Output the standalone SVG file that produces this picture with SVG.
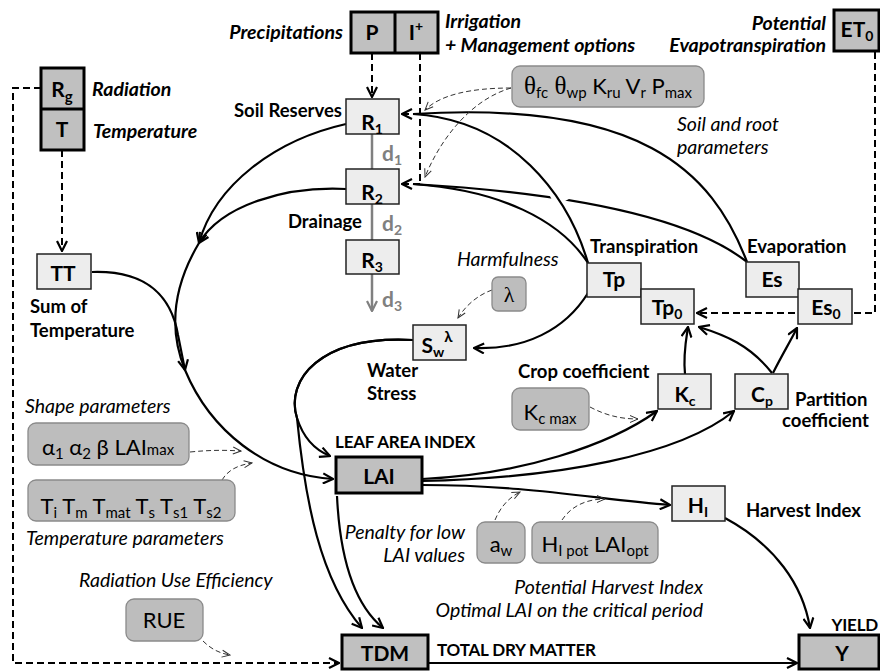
<svg xmlns="http://www.w3.org/2000/svg" width="880" height="671" viewBox="0 0 880 671">
<style>
.nb{fill:#c0c0c0;stroke:#000;stroke-width:3}
.lb{fill:#ededed;stroke:#222;stroke-width:1.5}
.pb{fill:#bdbdbd;stroke:#8a8a8a;stroke-width:1.3}
text{font-family:Lato,"Noto Sans","DejaVu Sans",sans-serif;fill:#000}
.t{font-weight:bold;font-size:21px;text-anchor:middle}
.lab{font-weight:bold;font-size:18.5px}
.cap{font-weight:bold;font-size:17px;letter-spacing:-0.2px}
.bi{font-weight:bold;font-style:italic;font-size:19.5px}
.it{font-style:italic;font-size:19.5px}
.par{font-size:22px;text-anchor:middle}
.gr{fill:#808080;font-weight:bold;font-size:21px}
.c{fill:none;stroke:#000;stroke-width:2.2}
.d{fill:none;stroke:#000;stroke-width:2;stroke-dasharray:7 4}
.pd{fill:none;stroke:#333;stroke-width:1;stroke-dasharray:5 3}
.gl{fill:none;stroke:#808080;stroke-width:2.5}
.sym{font-family:"Liberation Serif",serif}
</style>
<defs>
<marker id="a" viewBox="0 0 12 12" refX="11" refY="6" markerWidth="12" markerHeight="12" markerUnits="userSpaceOnUse" orient="auto"><path d="M1,1 L11,6 L1,11" fill="none" stroke="#000" stroke-width="2.2"/></marker>
<marker id="g" viewBox="0 0 12 12" refX="11" refY="6" markerWidth="12" markerHeight="12" markerUnits="userSpaceOnUse" orient="auto"><path d="M1,1 L11,6 L1,11" fill="none" stroke="#808080" stroke-width="2.2"/></marker>
<marker id="s" viewBox="0 0 10 10" refX="9" refY="5" markerWidth="10" markerHeight="10" markerUnits="userSpaceOnUse" orient="auto"><path d="M1,1.5 L9,5 L1,8.5" fill="none" stroke="#333" stroke-width="1"/></marker>
</defs>

<g id="connectors">
<path class="d" d="M41,88 L13,88 L13,663 L339,663" marker-end="url(#a)"/>
<path class="d" d="M62,150 L62,251" marker-end="url(#a)"/>
<path class="d" d="M372,53 L372,97" marker-end="url(#a)"/>
<path class="d" d="M420,53 L420,184"/>
<path class="d" d="M420,114 L402,114" marker-end="url(#a)"/>
<path class="d" d="M420,184 L402,184" marker-end="url(#a)"/>
<path class="d" d="M875,52 L875,313 L697,313" marker-end="url(#a)"/>
<path class="c" d="M747,262 C 712,170 640,100 413,114"/>
<path class="c" d="M747,262 C 700,225 600,195 413,184"/>
<line x1="551" y1="178" x2="563" y2="202" stroke="#fff" stroke-width="18"/>
<path class="c" d="M588,263 C 568,195 512,120 413,114"/>
<path class="c" d="M588,263 C 560,220 500,190 413,184"/>
<path class="c" d="M346,124 C 275,140 215,185 199,243" marker-end="url(#a)"/>
<path class="c" d="M346,189 C 285,186 222,205 199,243" marker-end="url(#a)"/>
<path class="c" d="M199,243 C 168,295 172,338 185,370 C 210,430 265,475 333,479" marker-end="url(#a)"/>
<path class="c" d="M92,272 C 150,270 172,300 178,335 C 181,350 183,360 185,370" marker-end="url(#a)"/>
<line class="gl" x1="372" y1="134" x2="372" y2="169"/>
<line class="gl" x1="372" y1="204" x2="372" y2="240"/>
<path class="gl" d="M372,274 L372,311" marker-end="url(#g)"/>
<path class="c" d="M588,293 C 565,330 525,350 474,348" marker-end="url(#a)"/>
<path class="c" d="M413,340 C 320,335 285,380 297,418 C 303,437 315,450 330,456" marker-end="url(#a)"/>
<path class="c" d="M413,340 C 320,335 285,380 297,418 C 305,500 320,580 362,628" marker-end="url(#a)"/>
<path class="c" d="M337,496 C 340,560 355,605 383,628" marker-end="url(#a)"/>
<path class="c" d="M422,479 C 520,475 610,445 657,411" marker-end="url(#a)"/>
<path class="c" d="M422,481 C 560,478 680,455 734,411" marker-end="url(#a)"/>
<path class="c" d="M422,485 C 530,485 600,500 670,505" marker-end="url(#a)"/>
<path class="c" d="M725,518 C 775,545 803,585 810,628" marker-end="url(#a)"/>
<path class="c" d="M428,663 L797,663" marker-end="url(#a)"/>
<path class="c" d="M685,374 C 683,355 686,340 688,327" marker-end="url(#a)"/>
<path class="c" d="M772,373 C 750,345 725,335 699,327" marker-end="url(#a)"/>
<path class="c" d="M773,373 C 782,355 790,342 797,328" marker-end="url(#a)"/>
<path class="pd" d="M511,88 C 470,88 440,95 425,110" marker-end="url(#s)"/>
<path class="pd" d="M511,88 C 470,100 440,140 425,177" marker-end="url(#s)"/>
<path class="pd" d="M492,290 C 478,295 466,305 458,318" marker-end="url(#s)"/>
<path class="pd" d="M590,407 C 605,415 620,419 638,419" marker-end="url(#s)"/>
<path class="pd" d="M190,452 C 210,450 225,450 241,451" marker-end="url(#s)"/>
<path class="pd" d="M222,480 C 228,470 238,465 252,463" marker-end="url(#s)"/>
<path class="pd" d="M203,641 C 210,648 218,653 230,655" marker-end="url(#s)"/>
<path class="pd" d="M495,520 C 500,508 508,498 520,492" marker-end="url(#s)"/>
<path class="pd" d="M562,520 C 572,505 588,499 605,499" marker-end="url(#s)"/>
</g>

<g id="RgT">
<rect class="nb" x="41" y="68" width="43" height="82"/>
<line x1="41" y1="109" x2="84" y2="109" stroke="#000" stroke-width="3"/>
<text class="t" x="62" y="97" font-size="23">R<tspan font-size="15" dy="5">g</tspan></text>
<text class="t" x="62" y="137" font-size="23">T</text>
<text class="bi" x="92" y="96">Radiation</text>
<text class="bi" x="93" y="138">Temperature</text>
</g>

<g id="PI">
<rect class="nb" x="351" y="12" width="87" height="41"/>
<line x1="395" y1="12" x2="395" y2="53" stroke="#000" stroke-width="3"/>
<text class="t" x="372" y="40" font-size="22">P</text>
<text class="t" x="416" y="40" font-size="22">I<tspan font-size="14" dy="-9">+</tspan></text>
<text class="bi" x="343" y="39" text-anchor="end">Precipitations</text>
<text class="bi" x="445" y="28">Irrigation</text>
<text class="bi" x="445" y="52">+ Management options</text>
</g>

<g id="ET0">
<rect class="nb" x="834" y="10" width="45" height="41"/>
<text class="t" x="857" y="37" font-size="22">ET<tspan font-size="14" dy="4">0</tspan></text>
<text class="bi" x="826" y="30" text-anchor="end">Potential</text>
<text class="bi" x="826" y="52" text-anchor="end">Evapotranspiration</text>
</g>

<g id="soilparams">
<rect class="pb" x="512" y="66" width="192" height="41" rx="8"/>
<text class="par" x="608" y="94"><tspan class="sym" font-size="25">θ</tspan><tspan font-size="15" dy="4">fc</tspan><tspan class="sym" font-size="25" dy="-4"> θ</tspan><tspan font-size="15" dy="4">wp</tspan><tspan dy="-4"> K</tspan><tspan font-size="15" dy="4">ru</tspan><tspan dy="-4"> V</tspan><tspan font-size="15" dy="4">r</tspan><tspan dy="-4">  P</tspan><tspan font-size="15" dy="4">max</tspan></text>
<text class="it" x="677" y="131">Soil and root</text>
<text class="it" x="677" y="154">parameters</text>
</g>

<g id="R1">
<rect class="lb" x="346" y="99" width="53" height="35"/>
<text class="t" x="372" y="130">R<tspan font-size="14" dy="4">1</tspan></text>
<text class="lab" x="342" y="117" text-anchor="end">Soil Reserves</text>
<text class="gr" x="382" y="161">d<tspan font-size="14" dy="4">1</tspan></text>
</g>
<g id="R2">
<rect class="lb" x="346" y="169" width="53" height="35"/>
<text class="t" x="372" y="200">R<tspan font-size="14" dy="4">2</tspan></text>
<text class="lab" x="362" y="228" text-anchor="end">Drainage</text>
<text class="gr" x="382" y="231">d<tspan font-size="14" dy="4">2</tspan></text>
</g>
<g id="R3">
<rect class="lb" x="346" y="240" width="53" height="34"/>
<text class="t" x="372" y="268">R<tspan font-size="14" dy="4">3</tspan></text>
<text class="gr" x="382" y="307">d<tspan font-size="14" dy="4">3</tspan></text>
</g>

<g id="TT">
<rect class="lb" x="37" y="254" width="54" height="35"/>
<text class="t" x="63" y="281">TT</text>
<text class="lab" x="30" y="313">Sum of</text>
<text class="lab" x="30" y="337">Temperature</text>
</g>

<g id="Sw">
<rect class="lb" x="413" y="325" width="53" height="35"/>
<text class="t" x="437" y="353">S<tspan font-size="14" dy="4">w</tspan><tspan font-size="15" dy="-15">λ</tspan></text>
<text class="lab" x="367" y="377">Water</text>
<text class="lab" x="367" y="400">Stress</text>
</g>
<g id="lambda">
<rect class="pb" x="492" y="277" width="34" height="34" rx="6"/>
<text class="par sym" x="509" y="302" font-size="24">λ</text>
<text class="it" x="457" y="266">Harmfulness</text>
</g>

<g id="Tp">
<rect class="lb" x="587" y="263" width="54" height="34"/>
<text class="t" x="614" y="287">Tp</text>
<text class="lab" x="590" y="253">Transpiration</text>
</g>
<g id="Tp0">
<rect class="lb" x="641" y="289" width="53" height="35"/>
<text class="t" x="667" y="315">Tp<tspan font-size="14" dy="4">0</tspan></text>
</g>
<g id="Es">
<rect class="lb" x="746" y="262" width="53" height="35"/>
<text class="t" x="772" y="287">Es</text>
<text class="lab" x="747" y="253">Evaporation</text>
</g>
<g id="Es0">
<rect class="lb" x="798" y="289" width="54" height="35"/>
<text class="t" x="826" y="315">Es<tspan font-size="14" dy="4">0</tspan></text>
</g>

<g id="Kc">
<rect class="lb" x="658" y="374" width="53" height="35"/>
<text class="t" x="685" y="402">K<tspan font-size="14" dy="4">c</tspan></text>
<text class="lab" x="518" y="378">Crop coefficient</text>
</g>
<g id="Kcmax">
<rect class="pb" x="512" y="388" width="77" height="42" rx="8"/>
<text class="par" x="550" y="420">K<tspan font-size="15" dy="4">c max</tspan></text>
</g>
<g id="Cp">
<rect class="lb" x="735" y="374" width="53" height="35"/>
<text class="t" x="762" y="402">C<tspan font-size="14" dy="4">p</tspan></text>
<text class="lab" x="795" y="406">Partition</text>
<text class="lab" x="782" y="427">coefficient</text>
</g>

<g id="shape">
<text class="it" x="25" y="413">Shape parameters</text>
<rect class="pb" x="28" y="423" width="161" height="42" rx="8"/>
<text class="par" x="108" y="455"><tspan>α</tspan><tspan font-size="15" dy="4">1</tspan><tspan dy="-4"> α</tspan><tspan font-size="15" dy="4">2</tspan><tspan dy="-4"> β  LAI</tspan><tspan font-size="15">max</tspan></text>
</g>
<g id="tparams">
<rect class="pb" x="28" y="480" width="207" height="41" rx="8"/>
<text class="par" x="131" y="514">T<tspan font-size="15" dy="4">i</tspan><tspan dy="-4">  T</tspan><tspan font-size="15" dy="4">m</tspan><tspan dy="-4">  T</tspan><tspan font-size="15" dy="4">mat</tspan><tspan dy="-4"> T</tspan><tspan font-size="15" dy="4">s</tspan><tspan dy="-4"> T</tspan><tspan font-size="15" dy="4">s1</tspan><tspan dy="-4"> T</tspan><tspan font-size="15" dy="4">s2</tspan></text>
<text class="it" x="26" y="545">Temperature parameters</text>
</g>
<g id="RUE">
<text class="it" x="79" y="587">Radiation Use Efficiency</text>
<rect class="pb" x="126" y="599" width="77" height="42" rx="8"/>
<text class="par" x="164" y="628">RUE</text>
</g>

<g id="LAI">
<rect class="nb" x="336" y="457" width="86" height="36"/>
<text class="t" x="379" y="484">LAI</text>
<text class="cap" x="335" y="448">LEAF AREA INDEX</text>
</g>
<g id="penalty">
<text class="it" x="465" y="539" text-anchor="end">Penalty for low</text>
<text class="it" x="465" y="562" text-anchor="end">LAI values</text>
<rect class="pb" x="477" y="522" width="48" height="41" rx="8"/>
<text class="par" x="501" y="552">a<tspan font-size="15" dy="4">w</tspan></text>
</g>
<g id="HIparams">
<rect class="pb" x="532" y="522" width="126" height="41" rx="8"/>
<text class="par" x="595" y="552">H<tspan font-size="15" dy="4">I pot</tspan><tspan dy="-4">  LAI</tspan><tspan font-size="15" dy="4">opt</tspan></text>
<text class="it" x="703" y="594" text-anchor="end">Potential Harvest Index</text>
<text class="it" x="703" y="617" text-anchor="end">Optimal LAI on the critical period</text>
</g>
<g id="HI">
<rect class="lb" x="672" y="486" width="53" height="35"/>
<text class="t" x="698" y="513">H<tspan font-size="14" dy="4">I</tspan></text>
<text class="lab" x="746" y="517">Harvest Index</text>
</g>

<g id="TDM">
<rect class="nb" x="342" y="635" width="86" height="34"/>
<text class="t" x="385" y="661">TDM</text>
<text class="cap" x="437" y="656">TOTAL DRY MATTER</text>
</g>
<g id="Y">
<rect class="nb" x="799" y="635" width="80" height="34"/>
<text class="t" x="842" y="661">Y</text>
<text class="cap" x="878" y="631" text-anchor="end">YIELD</text>
</g>
</svg>
